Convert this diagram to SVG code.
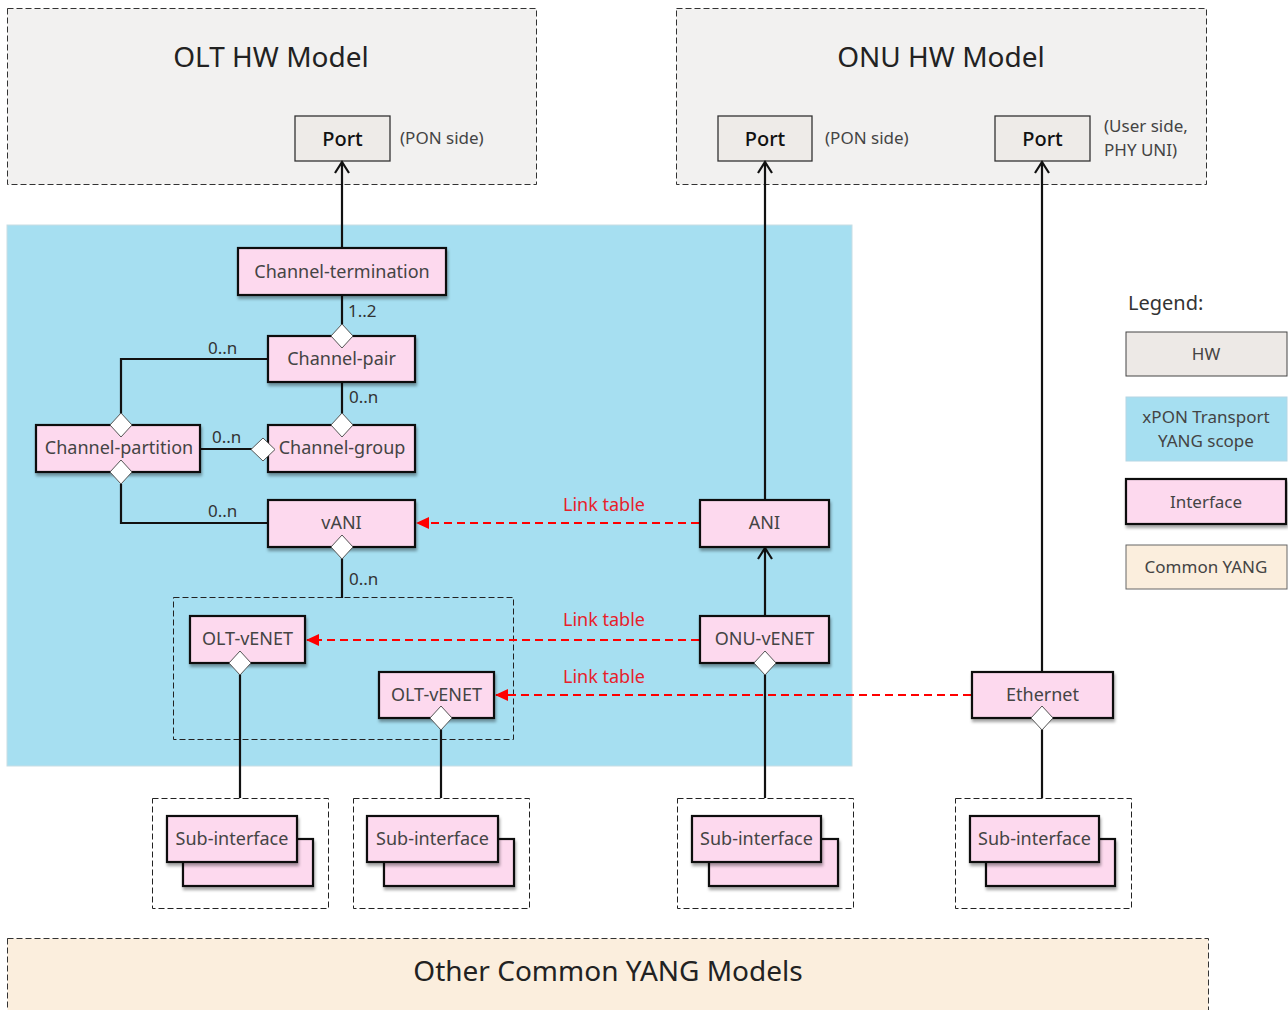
<svg xmlns="http://www.w3.org/2000/svg" width="1288" height="1010" viewBox="0 0 1288 1010">
<defs>
<style>
text{font-family:"Noto Sans","Open Sans",sans-serif;}
.hw{fill:#f2f1f0;stroke:#333;stroke-width:1;stroke-dasharray:6 3;}
.port{fill:#eeebe8;stroke:#333;stroke-width:1.3;}
.porttxt{font-size:20px;fill:#111;text-anchor:middle;font-weight:500;}
.note{font-size:17px;fill:#444;}
.title{font-size:28px;fill:#222;text-anchor:middle;}
.ifc{fill:#fdd9ee;stroke:#111;stroke-width:2.2;filter:url(#sh);}
.ifctxt{font-size:18px;fill:#444;text-anchor:middle;}
.card{font-size:17px;fill:#333;}
.line{stroke:#111;stroke-width:2.2;fill:none;}
.dia{fill:#fff;stroke:#555;stroke-width:1;}
.red{stroke:#f00;stroke-width:2.2;stroke-dasharray:8 5;fill:none;}
.redtxt{font-size:18px;fill:#e8202a;text-anchor:middle;}
.dbox{fill:none;stroke:#222;stroke-width:1;stroke-dasharray:6 3;}
</style>
<filter id="sh" x="-10%" y="-10%" width="130%" height="140%">
<feDropShadow dx="1" dy="3" stdDeviation="1.5" flood-color="#000" flood-opacity="0.35"/>
</filter>
<marker id="open" markerWidth="16" markerHeight="18" refX="13" refY="9" orient="auto" markerUnits="userSpaceOnUse" viewBox="0 0 16 18">
<path d="M2,2 L13,9 L2,16" fill="none" stroke="#111" stroke-width="2.2"/>
</marker>
<marker id="redarr" markerWidth="14" markerHeight="14" refX="12" refY="7" orient="auto" markerUnits="userSpaceOnUse" viewBox="0 0 14 14">
<path d="M0,1 L13,7 L0,13 Z" fill="#f00"/>
</marker>
</defs>
<rect width="1288" height="1010" fill="#fff"/>

<g id="olt-hw">
<rect class="hw" x="7.5" y="8.5" width="529" height="176"/>
<text class="title" x="271" y="67">OLT HW Model</text>
</g>
<g id="olt-port">
<rect class="port" x="295" y="116" width="95" height="45"/>
<text class="porttxt" x="342.5" y="146">Port</text>
<text class="note" x="400" y="144">(PON side)</text>
</g>
<g id="onu-hw">
<rect class="hw" x="676.5" y="8.5" width="530" height="176"/>
<text class="title" x="941" y="67">ONU HW Model</text>
</g>
<g id="onu-port-pon">
<rect class="port" x="718" y="116" width="94" height="45"/>
<text class="porttxt" x="765" y="146">Port</text>
<text class="note" x="825" y="144">(PON side)</text>
</g>
<g id="onu-port-uni">
<rect class="port" x="995" y="116" width="95" height="45"/>
<text class="porttxt" x="1042.5" y="146">Port</text>
<text class="note" x="1104" y="132">(User side,</text>
<text class="note" x="1104" y="156">PHY UNI)</text>
</g>

<g id="xpon-scope">
<rect x="7" y="225" width="845" height="541" fill="#a6dff1" stroke="#c8dde4" stroke-width="1"/>
</g>

<g id="vENET-group">
<rect class="dbox" x="173.5" y="597.5" width="340" height="142"/>
</g>

<g id="connectors">
<line class="line" x1="342" y1="248" x2="342" y2="162" marker-end="url(#open)"/>
<line class="line" x1="342" y1="295" x2="342" y2="326"/>
<polyline class="line" points="268,359 121,359 121,414"/>
<line class="line" x1="342" y1="382" x2="342" y2="414"/>
<line class="line" x1="200" y1="449" x2="252" y2="449"/>
<polyline class="line" points="121,484 121,523 268,523"/>
<line class="line" x1="342" y1="558" x2="342" y2="598"/>
<line class="line" x1="765" y1="500" x2="765" y2="162" marker-end="url(#open)"/>
<line class="line" x1="765" y1="616" x2="765" y2="548" marker-end="url(#open)"/>
<line class="line" x1="1042" y1="672" x2="1042" y2="162" marker-end="url(#open)"/>
<line class="line" x1="240" y1="674" x2="240" y2="798"/>
<line class="line" x1="441" y1="729" x2="441" y2="798"/>
<line class="line" x1="765" y1="674" x2="765" y2="798"/>
<line class="line" x1="1042" y1="729" x2="1042" y2="798"/>
<line class="red" x1="699" y1="523" x2="417" y2="523" marker-end="url(#redarr)"/>
<line class="red" x1="699" y1="640" x2="307" y2="640" marker-end="url(#redarr)"/>
<line class="red" x1="971" y1="695" x2="496" y2="695" marker-end="url(#redarr)"/>
<text class="redtxt" x="604" y="511">Link table</text>
<text class="redtxt" x="604" y="626">Link table</text>
<text class="redtxt" x="604" y="683">Link table</text>
<text class="card" x="348" y="317">1..2</text>
<text class="card" x="208" y="354">0..n</text>
<text class="card" x="349" y="403">0..n</text>
<text class="card" x="212" y="443">0..n</text>
<text class="card" x="208" y="517">0..n</text>
<text class="card" x="349" y="585">0..n</text>
</g>

<g id="channel-termination">
<rect class="ifc" x="238" y="248" width="208" height="47"/>
<text class="ifctxt" x="342" y="278">Channel-termination</text>
</g>
<g id="channel-pair">
<rect class="ifc" x="268" y="336" width="147" height="46"/>
<text class="ifctxt" x="341.5" y="365">Channel-pair</text>
<path class="dia" d="M342,324 L353,336 L342,348 L331,336 Z"/>
</g>
<g id="channel-group">
<rect class="ifc" x="268" y="425" width="147" height="47"/>
<text class="ifctxt" x="342" y="454">Channel-group</text>
<path class="dia" d="M342,413 L353,425 L342,437 L331,425 Z"/>
<path class="dia" d="M263,438 L275,449.5 L263,461 L251,449.5 Z"/>
</g>
<g id="channel-partition">
<rect class="ifc" x="36" y="425" width="164" height="47"/>
<text class="ifctxt" x="119" y="454">Channel-partition</text>
<path class="dia" d="M121,413 L132,425 L121,437 L110,425 Z"/>
<path class="dia" d="M121,460 L132,472 L121,484 L110,472 Z"/>
</g>
<g id="vANI">
<rect class="ifc" x="268" y="500" width="147" height="47"/>
<text class="ifctxt" x="341.5" y="529">vANI</text>
<path class="dia" d="M342,535 L353,547 L342,559 L331,547 Z"/>
</g>
<g id="ANI">
<rect class="ifc" x="700" y="500" width="129" height="47"/>
<text class="ifctxt" x="764.5" y="529">ANI</text>
</g>
<g id="olt-venet-1">
<rect class="ifc" x="190" y="616" width="115" height="47"/>
<text class="ifctxt" x="247.5" y="645">OLT-vENET</text>
<path class="dia" d="M240,651 L251,663 L240,675 L229,663 Z"/>
</g>
<g id="olt-venet-2">
<rect class="ifc" x="379" y="672" width="115" height="46"/>
<text class="ifctxt" x="436.5" y="701">OLT-vENET</text>
<path class="dia" d="M441,706 L452,718 L441,730 L430,718 Z"/>
</g>
<g id="onu-venet">
<rect class="ifc" x="700" y="616" width="129" height="47"/>
<text class="ifctxt" x="764.5" y="645">ONU-vENET</text>
<path class="dia" d="M765,651 L776,663 L765,675 L754,663 Z"/>
</g>
<g id="ethernet">
<rect class="ifc" x="972" y="672" width="141" height="46"/>
<text class="ifctxt" x="1042.5" y="701">Ethernet</text>
<path class="dia" d="M1042,706 L1053,718 L1042,730 L1031,718 Z"/>
</g>

<g id="sub-interface-1">
<rect class="dbox" x="152.5" y="798.5" width="176" height="110"/>
<rect class="ifc" x="183" y="839" width="130" height="47"/>
<rect class="ifc" x="167" y="816" width="130" height="46"/>
<text class="ifctxt" x="232" y="845">Sub-interface</text>
</g>
<g id="sub-interface-2">
<rect class="dbox" x="353.5" y="798.5" width="176" height="110"/>
<rect class="ifc" x="384" y="839" width="130" height="47"/>
<rect class="ifc" x="367" y="816" width="131" height="46"/>
<text class="ifctxt" x="432.5" y="845">Sub-interface</text>
</g>
<g id="sub-interface-3">
<rect class="dbox" x="677.5" y="798.5" width="176" height="110"/>
<rect class="ifc" x="709" y="839" width="129" height="47"/>
<rect class="ifc" x="692" y="816" width="129" height="46"/>
<text class="ifctxt" x="756.5" y="845">Sub-interface</text>
</g>
<g id="sub-interface-4">
<rect class="dbox" x="955.5" y="798.5" width="176" height="110"/>
<rect class="ifc" x="986" y="839" width="129" height="47"/>
<rect class="ifc" x="970" y="816" width="129" height="46"/>
<text class="ifctxt" x="1034.5" y="845">Sub-interface</text>
</g>

<g id="common-yang">
<rect x="7.5" y="938.5" width="1201" height="80" fill="#fbeedd" stroke="#333" stroke-width="1" stroke-dasharray="6 3"/>
<text class="title" x="608" y="981">Other Common YANG Models</text>
</g>

<g id="legend">
<text x="1128" y="310" font-size="20" fill="#333">Legend:</text>
<rect x="1126" y="332" width="161" height="44" fill="#ede9e6" stroke="#444" stroke-width="1"/>
<text x="1206" y="360" font-size="17" fill="#444" text-anchor="middle">HW</text>
<rect x="1126" y="397" width="161" height="64" fill="#a6dff1" stroke="#b5d6e4" stroke-width="1"/>
<text x="1206" y="423" font-size="17" fill="#444" text-anchor="middle">xPON Transport</text>
<text x="1206" y="447" font-size="17" fill="#444" text-anchor="middle">YANG scope</text>
<rect class="ifc" x="1126" y="479" width="160" height="45"/>
<text x="1206" y="508" font-size="17" fill="#444" text-anchor="middle">Interface</text>
<rect x="1126" y="545" width="161" height="44" fill="#fbeedd" stroke="#666" stroke-width="1"/>
<text x="1206" y="573" font-size="17" fill="#444" text-anchor="middle">Common YANG</text>
</g>
</svg>
